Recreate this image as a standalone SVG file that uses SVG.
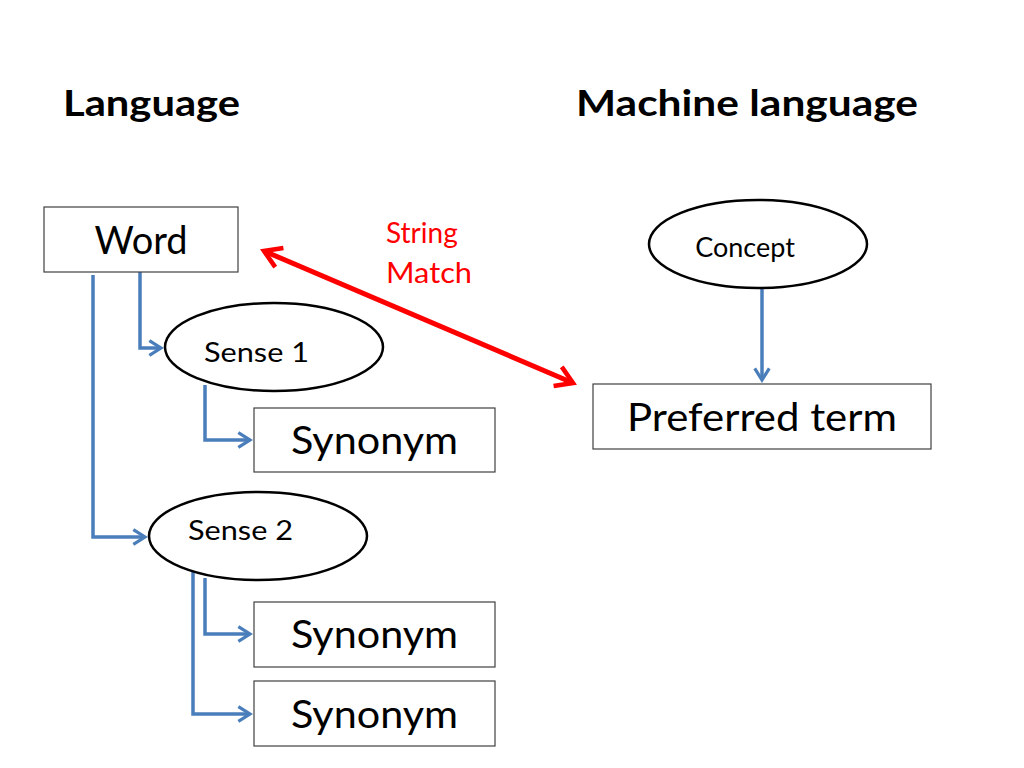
<svg xmlns="http://www.w3.org/2000/svg" width="1024" height="768" viewBox="0 0 1024 768">
<style>
text{font-family:Lato,"Liberation Sans",sans-serif;fill:#000}
.box{fill:#fff;stroke:#404040;stroke-width:1.2}
.ell{fill:#fff;stroke:#000;stroke-width:2.5}
.blue{fill:none;stroke:#4a7ebb;stroke-width:3.5;marker-end:url(#ba)}
</style>
<defs>
<marker id="ba" viewBox="0 0 12 12" refX="10" refY="6" markerWidth="5" markerHeight="5" orient="auto" markerUnits="strokeWidth">
<polyline points="2,1 10,6 2,11" fill="none" stroke="#4a7ebb" stroke-width="2.2"/>
</marker>
<marker id="ra" viewBox="0 0 12 12" refX="10" refY="6" markerWidth="5" markerHeight="5" orient="auto-start-reverse" markerUnits="strokeWidth">
<polyline points="2,1 10,6 2,11" fill="none" stroke="#f00" stroke-width="2.2"/>
</marker>
</defs>
<text x="63" y="116" font-size="37" font-weight="bold" textLength="177" lengthAdjust="spacingAndGlyphs">Language</text>
<text x="576" y="116" font-size="37" font-weight="bold" textLength="342" lengthAdjust="spacingAndGlyphs">Machine language</text>
<g id="connectors">
<polyline class="blue" points="140,272 140,348 161,348"/>
<polyline class="blue" points="93,275 93,537 145,537"/>
<polyline class="blue" points="205,385 205,440 250,440"/>
<polyline class="blue" points="205,578 205,634 250,634"/>
<polyline class="blue" points="193,570 193,714 250,714"/>
<line class="blue" x1="762" y1="288" x2="762" y2="380"/>
<line x1="264" y1="251" x2="573" y2="383" stroke="#f00" stroke-width="5" marker-start="url(#ra)" marker-end="url(#ra)"/>
<text x="386" y="243" font-size="28" style="fill:#f00">String</text>
<text x="386" y="283" font-size="28" style="fill:#f00" textLength="86" lengthAdjust="spacingAndGlyphs">Match</text>
</g>
<g id="word"><rect class="box" x="44" y="207" width="194" height="65"/><text x="141" y="254" font-size="38" text-anchor="middle">Word</text></g>
<g id="concept"><ellipse class="ell" cx="758" cy="244" rx="109" ry="44"/><text x="745" y="257" font-size="27" text-anchor="middle">Concept</text></g>
<g id="preferred"><rect class="box" x="593" y="384" width="338" height="65"/><text x="627" y="431" font-size="39" textLength="270" lengthAdjust="spacingAndGlyphs">Preferred term</text></g>
<g id="sense1"><ellipse class="ell" cx="274" cy="347" rx="109" ry="44"/><text x="204" y="362" font-size="27" textLength="105" lengthAdjust="spacingAndGlyphs">Sense 1</text></g>
<g id="sense2"><ellipse class="ell" cx="258" cy="536" rx="109" ry="44"/><text x="188" y="540" font-size="27" textLength="105" lengthAdjust="spacingAndGlyphs">Sense 2</text></g>
<g id="syn1"><rect class="box" x="254" y="408" width="241" height="64"/><text x="291" y="454" font-size="39" textLength="167" lengthAdjust="spacingAndGlyphs">Synonym</text></g>
<g id="syn2"><rect class="box" x="254" y="602" width="241" height="65"/><text x="291" y="648" font-size="39" textLength="167" lengthAdjust="spacingAndGlyphs">Synonym</text></g>
<g id="syn3"><rect class="box" x="254" y="681" width="241" height="65"/><text x="291" y="728" font-size="39" textLength="167" lengthAdjust="spacingAndGlyphs">Synonym</text></g>
</svg>
